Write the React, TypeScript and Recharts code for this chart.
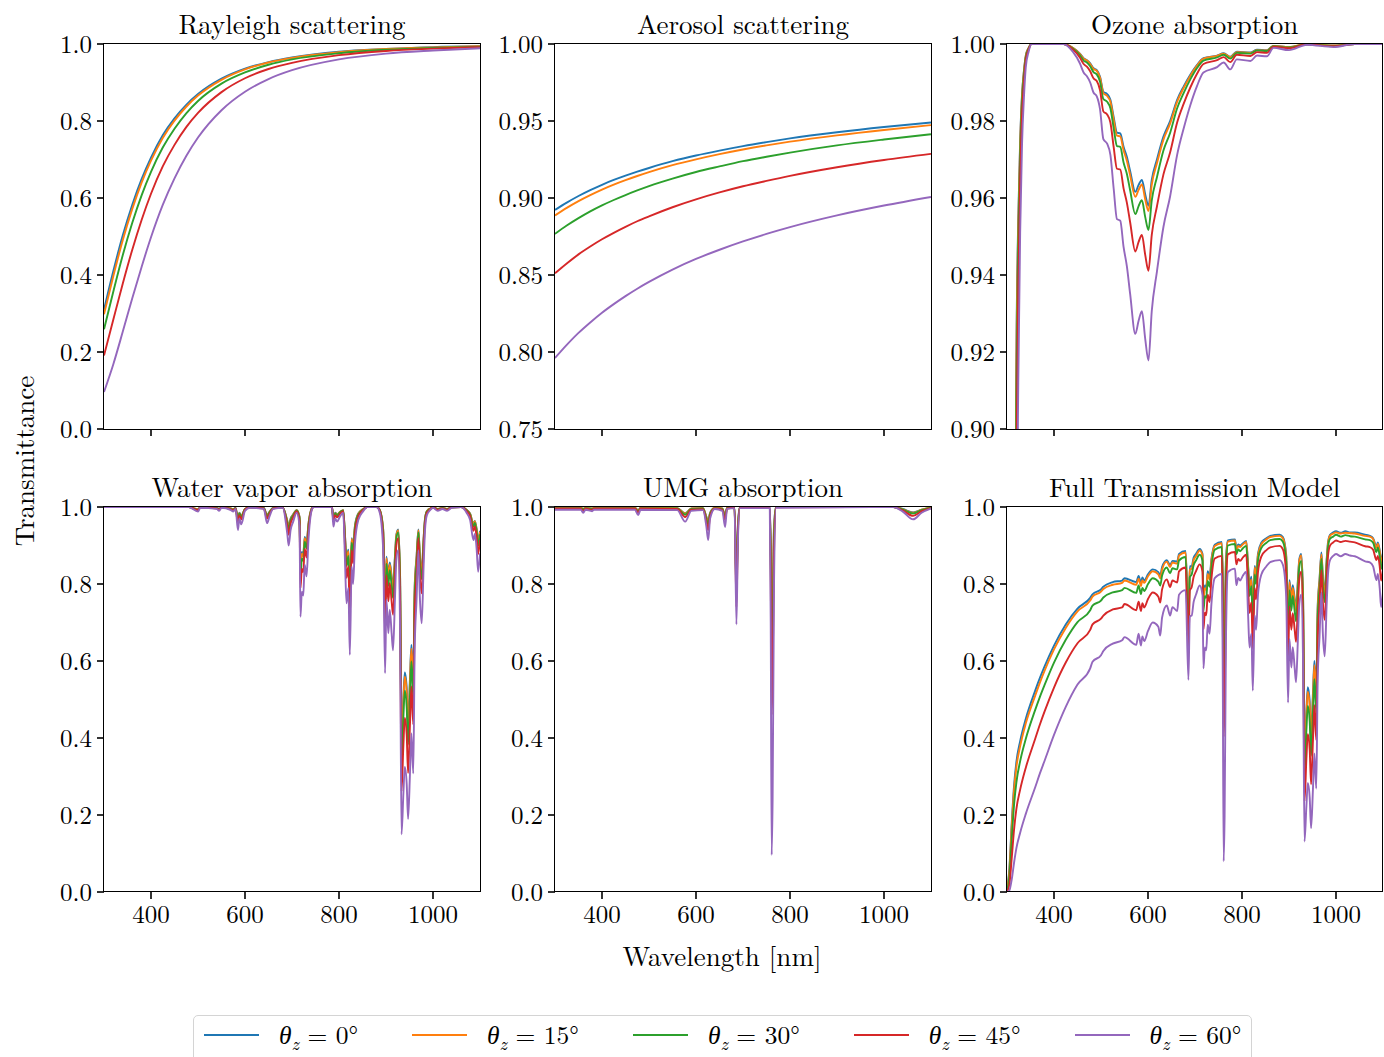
import { LineChart, Line, XAxis, YAxis } from 'recharts';

const COLORS = ['#1f77b4', '#ff7f0e', '#2ca02c', '#d62728', '#9467bd'];
const ANGLES = [0, 15, 30, 45, 60];
const X_TICKS = [400, 600, 800, 1000];
const Y_TICKS_UNIT = [0, 0.2, 0.4, 0.6, 0.8, 1.0];
const Y_TICKS_AEROSOL = [0.75, 0.8, 0.85, 0.9, 0.95, 1.0];
const Y_TICKS_OZONE = [0.9, 0.92, 0.94, 0.96, 0.98, 1.0];
const FONT = '"Latin Modern Roman", "CMU Serif", "Liberation Serif", serif';

// rows are theta_z = 0, 15, 30, 45, 60 deg
const rayleighWl = [300, 320, 340, 360, 380, 400, 425, 450, 475, 500, 550, 600, 650, 700, 800, 900, 1000, 1100];
const rayleighT = [
  [.310, .411, .503, .582, .649, .705, .763, .807, .842, .870, .910, .936, .953, .965, .980, .987, .992, .994],
  [.298, .398, .491, .571, .640, .697, .756, .801, .837, .866, .907, .934, .952, .964, .979, .987, .991, .994],
  [.259, .358, .452, .535, .607, .668, .731, .780, .820, .852, .897, .926, .946, .960, .976, .985, .990, .993],
  [.191, .285, .378, .465, .543, .611, .682, .738, .784, .821, .875, .911, .935, .951, .971, .982, .988, .992],
  [.096, .169, .253, .339, .421, .498, .582, .651, .709, .757, .828, .876, .909, .932, .960, .975, .983, .989],
];

const aerosolWl = [300, 325, 350, 375, 400, 425, 450, 475, 500, 550, 600, 650, 700, 750, 800, 900, 1000, 1100];
const aerosolT = [
  [.8923, .8970, .9013, .9051, .9086, .9117, .9145, .9171, .9195, .9239, .9276, .9308, .9337, .9363, .9387, .9427, .9461, .9490],
  [.8887, .8936, .8980, .9019, .9055, .9087, .9116, .9143, .9168, .9213, .9251, .9285, .9315, .9342, .9366, .9407, .9442, .9473],
  [.8767, .8821, .8869, .8913, .8952, .8987, .9019, .9049, .9077, .9126, .9169, .9205, .9239, .9268, .9295, .9342, .9380, .9414],
  [.8511, .8575, .8634, .8685, .8732, .8774, .8813, .8849, .8881, .8940, .8991, .9036, .9076, .9111, .9144, .9200, .9247, .9287],
  [.7961, .8046, .8124, .8192, .8255, .8311, .8363, .8411, .8455, .8535, .8604, .8664, .8718, .8767, .8811, .8887, .8951, .9007],
];

const ozoneWl = [300, 305, 310, 315, 320, 324, 328, 332, 336, 340, 346, 352, 420, 440, 455, 463, 470, 477, 484, 491,
  498, 505, 513, 520, 527, 534, 541, 548, 555, 562, 573, 580, 587, 594, 601, 608, 619, 633, 647, 662,
  676, 690, 704, 718, 747, 761, 775, 789, 818, 832, 853, 867, 900, 938, 995, 1040, 1100];
const ozoneT = [
  [.03, .20, .55, .80, .92, .955, .975, .987, .993, .997, .999, 1, 1, .999, .9975, .9963, .9958, .995, .9937, .9932,
    .9915, .9876, .987, .9855, .981, .977, .9768, .9733, .9707, .967, .9616, .9634, .9647, .961, .958, .9647, .970, .976, .980, .9855,
    .989, .992, .9945, .9963, .997, .9976, .9967, .998, .9978, .9985, .9984, .9995, .9992, .9999, .9996, 1, 1],
  [.027, .189, .539, .794, .917, .953, .974, .9865, .9928, .9969, .999, 1, 1, .999, .9974, .9962, .9957, .9948, .9935, .993,
    .9912, .9872, .9865, .985, .9803, .9762, .976, .9724, .9697, .9659, .9603, .9621, .9635, .9597, .9566, .9635, .969, .9752, .9793, .985,
    .9886, .9917, .9943, .9962, .9969, .9975, .9966, .9979, .9977, .9984, .9983, .9995, .9992, 1, .9996, 1, 1],
  [.017, .156, .501, .773, .908, .948, .971, .985, .9919, .9965, .9988, 1, 1, .9988, .9971, .9957, .9952, .9942, .9927, .9921,
    .9902, .9857, .985, .9833, .9781, .9735, .9733, .9692, .9663, .962, .9558, .9579, .9594, .9551, .9517, .9594, .9654, .9724, .9769, .9833,
    .9873, .9908, .9937, .9957, .9965, .9972, .9962, .9977, .9975, .9983, .9982, .9994, .9991, .9999, .9995, 1, 1],
  [.007, .103, .429, .729, .889, .937, .965, .9817, .9901, .9958, .9986, 1, 1, .9986, .9965, .9948, .9941, .9929, .9911, .9904,
    .988, .9825, .9817, .9796, .9732, .9676, .9674, .9625, .9588, .9537, .9461, .9486, .9504, .9453, .9411, .9504, .9578, .9662, .9718, .9796,
    .9845, .9887, .9922, .9948, .9958, .9966, .9953, .9972, .9969, .9979, .9977, .9993, .9989, .9999, .9994, 1, 1],
  [.001, .040, .303, .640, .846, .912, .951, .974, .986, .994, .998, 1, 1, .998, .995, .9926, .9916, .990, .9874, .9864,
    .983, .9753, .9741, .9712, .9624, .9545, .9541, .9473, .9423, .9351, .9247, .9281, .9306, .9235, .9178, .9306, .9409, .9526, .9604, .9712,
    .9781, .9841, .989, .9926, .994, .9952, .9934, .996, .9956, .997, .9968, .999, .9984, .9998, .9992, 1, 1],
];

const waterWl = [300, 480, 500, 505, 540, 545, 550, 570, 575, 580, 585, 588, 592, 600, 610, 640, 647, 652, 660, 680,
  690, 693, 697, 702, 710, 716, 718, 721, 724, 727, 731, 735, 742, 746, 785, 788, 792, 796, 802, 809,
  813, 816, 820, 823, 827, 830, 834, 841, 852, 860, 880, 887, 894, 898, 901, 905, 908, 912, 915, 919,
  922, 926, 930, 933, 937, 940, 944, 947, 951, 954, 958, 961, 965, 969, 972, 976, 980, 983, 987, 994,
  1000, 1010, 1020, 1030, 1040, 1060, 1072, 1079, 1086, 1089, 1093, 1096, 1100];
const waterT = [
  [1, 1, .994, .999, .998, .995, .999, .996, .994, .998, .970, .985, .977, .995, .999, .998, .979, .987, .998, .999,
    .964, .949, .970, .980, .992, .975, .846, .883, .877, .922, .906, .956, .996, 1, 1, .974, .985, .981, .987, .992,
    .922, .866, .889, .785, .919, .894, .952, .983, .995, 1, 1, .992, .942, .754, .871, .820, .856, .820, .792, .871,
    .928, .942, .820, .387, .506, .570, .531, .436, .555, .642, .555, .792, .871, .942, .876, .835, .919, .970, .989, .996,
    .999, .995, .998, .995, .999, 1, .992, .983, .956, .964, .942, .912, .938],
  [1, 1, .994, .999, .997, .995, .999, .996, .994, .997, .968, .984, .976, .995, .999, .997, .978, .987, .997, .999,
    .963, .947, .968, .979, .992, .974, .841, .879, .873, .919, .902, .955, .996, 1, 1, .973, .984, .980, .987, .992,
    .919, .862, .885, .778, .917, .891, .950, .982, .995, 1, 1, .992, .940, .746, .867, .814, .851, .814, .786, .867,
    .926, .940, .814, .375, .494, .559, .519, .423, .544, .632, .544, .786, .867, .940, .872, .830, .917, .968, .989, .996,
    .999, .995, .997, .995, .999, 1, .992, .982, .955, .963, .940, .909, .936],
  [1, 1, .993, .999, .997, .994, .999, .995, .993, .997, .965, .983, .974, .994, .999, .997, .976, .986, .997, .999,
    .959, .941, .965, .977, .991, .971, .824, .866, .860, .910, .892, .949, .995, 1, 1, .970, .983, .978, .986, .991,
    .910, .847, .873, .756, .907, .879, .945, .980, .994, 1, 1, .991, .934, .721, .853, .795, .836, .795, .764, .853,
    .918, .934, .795, .334, .455, .523, .481, .383, .507, .599, .507, .764, .853, .934, .858, .813, .907, .965, .988, .995,
    .999, .994, .997, .994, .999, 1, .991, .980, .949, .959, .934, .899, .929],
  [1, 1, .992, .999, .996, .993, .999, .994, .992, .996, .957, .979, .968, .993, .999, .996, .970, .982, .996, .999,
    .950, .928, .957, .972, .989, .964, .789, .839, .831, .891, .869, .938, .994, 1, 1, .964, .979, .973, .982, .989,
    .891, .816, .846, .710, .888, .854, .933, .976, .993, 1, 1, .989, .919, .670, .823, .755, .803, .755, .720, .823,
    .900, .919, .755, .261, .382, .452, .409, .309, .435, .534, .435, .720, .823, .919, .829, .776, .888, .957, .985, .994,
    .999, .993, .996, .993, .999, 1, .989, .976, .938, .950, .919, .878, .914],
  [1, 1, .988, .998, .995, .99, .998, .992, .988, .995, .94, .97, .955, .99, .998, .995, .958, .975, .995, .998,
    .93, .9, .94, .96, .985, .95, .715, .78, .77, .85, .82, .914, .992, 1, 1, .949, .97, .962, .975, .985,
    .85, .75, .79, .616, .845, .80, .906, .966, .99, 1, 1, .984, .888, .568, .759, .672, .733, .672, .628, .759,
    .862, .888, .672, .15, .256, .325, .282, .19, .308, .412, .308, .628, .759, .888, .767, .698, .845, .94, .979, .992,
    .998, .99, .995, .99, .998, 1, .984, .966, .914, .93, .888, .832, .88],
];

const umgWl = [300, 355, 360, 365, 379, 383, 470, 477, 482, 560, 577, 590, 615, 622, 626, 630, 640, 656, 662, 666,
  682, 686, 689, 693, 757, 759, 761, 763, 766, 770, 1020, 1040, 1062, 1080, 1100];
const umgT = [
  [.998, .998, .995, .998, .996, .998, .998, .992, .998, .997, .984, .996, .997, .975, .962, .985, .998, .996, .978, .998,
    .999, .80, .95, .999, .999, .90, .67, .75, .95, 1, 1, .995, .986, .993, .999],
  [.998, .998, .995, .998, .996, .998, .998, .991, .998, .997, .983, .996, .997, .974, .960, .984, .998, .996, .977, .998,
    .999, .79, .945, .999, .999, .89, .64, .72, .94, 1, 1, .994, .985, .993, .999],
  [.997, .997, .994, .997, .995, .997, .997, .989, .997, .996, .980, .995, .996, .970, .955, .982, .997, .995, .974, .997,
    .999, .77, .935, .999, .999, .87, .57, .66, .92, 1, 1, .993, .983, .992, .998],
  [.996, .996, .990, .996, .993, .996, .996, .985, .996, .995, .974, .993, .994, .962, .940, .977, .996, .993, .966, .996,
    .998, .74, .92, .998, .998, .83, .46, .55, .88, .999, 1, .991, .977, .989, .997],
  [.993, .993, .985, .993, .989, .993, .993, .979, .993, .992, .962, .990, .992, .950, .914, .970, .995, .990, .948, .995,
    .997, .695, .90, .997, .997, .70, .096, .24, .80, .998, 1, .988, .968, .985, .996],
];

const fullWl = [300, 305, 310, 315, 320, 328, 340, 360, 370, 380, 400, 425, 450, 477, 482, 500, 505, 525, 545, 550,
  575, 580, 585, 588, 592, 600, 610, 622, 626, 630, 640, 647, 652, 662, 666, 680, 686, 689, 693, 697,
  702, 710, 716, 718, 721, 724, 727, 731, 735, 742, 757, 759, 761, 763, 766, 770, 785, 788, 792, 796,
  802, 809, 813, 816, 820, 823, 827, 830, 834, 841, 852, 860, 880, 887, 894, 898, 901, 905, 908, 912,
  915, 919, 922, 926, 930, 933, 937, 940, 944, 947, 951, 954, 958, 961, 965, 969, 972, 976, 980, 983,
  987, 994, 1000, 1010, 1020, 1030, 1040, 1062, 1072, 1079, 1086, 1089, 1093, 1096, 1100];
const fullT = [
  [.008, .060, .178, .276, .338, .392, .450, .523, .556, .586, .640, .695, .736, .764, .773, .786, .793, .805, .809, .815,
    .805, .821, .802, .817, .809, .825, .838, .831, .822, .844, .862, .849, .860, .858, .878, .886, .711, .846, .846, .868,
    .878, .891, .878, .762, .796, .791, .833, .819, .865, .902, .909, .820, .610, .684, .867, .913, .916, .892, .903, .900,
    .906, .912, .848, .797, .819, .723, .847, .824, .879, .907, .919, .925, .928, .922, .876, .701, .810, .763, .797, .763,
    .737, .812, .865, .878, .765, .361, .472, .532, .496, .407, .518, .600, .518, .741, .814, .882, .820, .782, .861, .909,
    .927, .934, .937, .933, .937, .934, .934, .928, .925, .919, .897, .908, .887, .859, .884],
  [.007, .054, .168, .265, .325, .379, .438, .510, .544, .575, .630, .686, .729, .757, .767, .780, .787, .798, .803, .809,
    .798, .814, .795, .810, .803, .820, .833, .825, .815, .838, .858, .844, .856, .853, .874, .882, .699, .837, .840, .862,
    .872, .887, .874, .754, .789, .785, .826, .812, .860, .899, .906, .808, .581, .654, .855, .910, .913, .888, .899, .896,
    .903, .909, .843, .790, .812, .714, .843, .819, .874, .903, .916, .922, .925, .919, .871, .692, .805, .755, .790, .756,
    .730, .805, .861, .874, .757, .349, .460, .520, .484, .394, .507, .589, .507, .733, .809, .877, .814, .775, .856, .904,
    .925, .931, .934, .931, .933, .932, .931, .925, .923, .917, .894, .905, .884, .855, .880],
  [.004, .039, .136, .227, .285, .340, .398, .473, .507, .538, .596, .655, .701, .732, .744, .757, .765, .778, .784, .790,
    .777, .796, .774, .790, .782, .800, .815, .806, .796, .822, .843, .828, .841, .838, .861, .870, .673, .818, .825, .849,
    .861, .876, .860, .730, .768, .764, .808, .793, .845, .889, .896, .781, .512, .593, .828, .900, .904, .877, .890, .885,
    .893, .899, .826, .769, .794, .687, .825, .800, .861, .893, .907, .914, .917, .910, .858, .663, .784, .731, .769, .731,
    .703, .786, .845, .860, .733, .308, .420, .483, .444, .354, .468, .553, .468, .707, .789, .865, .794, .753, .841, .895,
    .917, .923, .928, .923, .927, .924, .923, .916, .914, .907, .883, .895, .871, .839, .866],
  [.001, .019, .087, .162, .216, .266, .323, .398, .435, .469, .531, .596, .646, .681, .695, .710, .718, .734, .739, .748,
    .732, .754, .730, .750, .739, .761, .778, .767, .752, .786, .812, .792, .809, .804, .833, .843, .628, .783, .792, .818,
    .833, .851, .832, .682, .726, .719, .772, .753, .814, .866, .873, .727, .403, .482, .773, .877, .883, .851, .865, .860,
    .869, .876, .790, .725, .752, .631, .790, .760, .831, .871, .888, .895, .899, .890, .828, .604, .742, .681, .724, .682,
    .650, .744, .814, .832, .683, .236, .346, .410, .371, .280, .395, .485, .395, .654, .748, .836, .754, .707, .809, .872,
    .899, .908, .913, .909, .912, .910, .908, .898, .896, .889, .862, .873, .846, .809, .840],
  [0, .004, .032, .076, .114, .154, .203, .272, .308, .341, .408, .481, .539, .581, .598, .615, .626, .645, .654, .662,
    .642, .671, .640, .664, .652, .678, .700, .689, .666, .713, .744, .718, .740, .730, .772, .784, .551, .716, .718, .753,
    .772, .796, .771, .581, .635, .628, .694, .671, .749, .815, .826, .580, .080, .199, .666, .831, .840, .797, .816, .809,
    .822, .832, .719, .635, .671, .523, .718, .681, .772, .824, .846, .857, .862, .850, .768, .492, .657, .583, .636, .583,
    .545, .659, .749, .772, .585, .131, .223, .283, .246, .166, .269, .360, .269, .549, .664, .778, .672, .612, .742, .825,
    .861, .873, .878, .872, .878, .874, .872, .859, .856, .846, .810, .826, .789, .740, .781],
];

const PLOT_W = 376;
const PLOT_H = 385;
const ML = 90;
const MT = 22;
const MR = 8;
const XH = 45;

function toRows(wl: number[], series: number[][]) {
  return wl.map((w, i) => {
    const row: Record<string, number> = { w };
    series.forEach((s, k) => { row['s' + k] = s[i]; });
    return row;
  });
}

interface PanelProps {
  left: number;
  top: number;
  title: string;
  wl: number[];
  series: number[][];
  yDomain: [number, number];
  yTicks: number[];
  digits: number;
  xLabels: boolean;
}

function Panel({ left, top, title, wl, series, yDomain, yTicks, digits, xLabels }: PanelProps) {
  const data = toRows(wl, series);
  const tickStyle = { fill: '#000', fontSize: 25, fontFamily: FONT };
  return (
    <div style={{ position: 'absolute', left: left - ML, top: top - MT }}>
      <div style={{
        position: 'absolute', left: ML, top: MT - 34, width: PLOT_W, textAlign: 'center',
        fontSize: 27, lineHeight: '27px', fontFamily: FONT, whiteSpace: 'nowrap',
      }}>{title}</div>
      <LineChart width={PLOT_W + ML + MR} height={PLOT_H + MT + XH} data={data}
        margin={{ top: MT, right: MR, left: 0, bottom: 0 }}>
        <XAxis type="number" dataKey="w" domain={[300, 1100]} ticks={X_TICKS} allowDataOverflow
          height={XH} tickSize={7} tickMargin={6} axisLine={false} stroke="#000"
          tickLine={{ stroke: '#000', strokeWidth: 1.6 }} tick={tickStyle}
          tickFormatter={(v: number) => (xLabels ? String(v) : '')} />
        <YAxis type="number" domain={yDomain} ticks={yTicks} allowDataOverflow width={ML}
          tickSize={7} tickMargin={5} axisLine={false} stroke="#000"
          tickLine={{ stroke: '#000', strokeWidth: 1.6 }} tick={tickStyle}
          tickFormatter={(v: number) => v.toFixed(digits)} />
        {series.map((_, k) => (
          <Line key={k} type="monotone" dataKey={'s' + k} stroke={COLORS[k]} strokeWidth={1.9}
            dot={false} activeDot={false} isAnimationActive={false} />
        ))}
      </LineChart>
      <div style={{
        position: 'absolute', left: ML - 0.8, top: MT - 0.8, width: PLOT_W + 1.6, height: PLOT_H + 1.6,
        border: '1.6px solid #000', boxSizing: 'border-box', pointerEvents: 'none',
      }} />
    </div>
  );
}

export default function App() {
  const row1 = 44.3;
  const row2 = 506.7;
  const cols = [104, 555, 1006.7];
  return (
    <div style={{
      position: 'absolute', left: 0, top: 0, width: 1384, height: 1057, overflow: 'hidden',
      background: '#fff', fontFamily: FONT, color: '#000',
    }}>
      <Panel left={cols[0]} top={row1} title="Rayleigh scattering" wl={rayleighWl} series={rayleighT}
        yDomain={[0, 1]} yTicks={Y_TICKS_UNIT} digits={1} xLabels={false} />
      <Panel left={cols[1]} top={row1} title="Aerosol scattering" wl={aerosolWl} series={aerosolT}
        yDomain={[0.75, 1]} yTicks={Y_TICKS_AEROSOL} digits={2} xLabels={false} />
      <Panel left={cols[2]} top={row1} title="Ozone absorption" wl={ozoneWl} series={ozoneT}
        yDomain={[0.9, 1]} yTicks={Y_TICKS_OZONE} digits={2} xLabels={false} />
      <Panel left={cols[0]} top={row2} title="Water vapor absorption" wl={waterWl} series={waterT}
        yDomain={[0, 1]} yTicks={Y_TICKS_UNIT} digits={1} xLabels />
      <Panel left={cols[1]} top={row2} title="UMG absorption" wl={umgWl} series={umgT}
        yDomain={[0, 1]} yTicks={Y_TICKS_UNIT} digits={1} xLabels />
      <Panel left={cols[2]} top={row2} title="Full Transmission Model" wl={fullWl} series={fullT}
        yDomain={[0, 1]} yTicks={Y_TICKS_UNIT} digits={1} xLabels />

      <div style={{
        position: 'absolute', left: 23, top: 461, transform: 'translate(-50%, -50%) rotate(-90deg)',
        fontSize: 27, lineHeight: '27px', whiteSpace: 'nowrap',
      }}>Transmittance</div>
      <div style={{
        position: 'absolute', left: 722, top: 942, transform: 'translateX(-50%)',
        fontSize: 27, lineHeight: '27px', whiteSpace: 'nowrap',
      }}>Wavelength [nm]</div>

      <div style={{
        position: 'absolute', left: 193, top: 1015, width: 1059, height: 60, boxSizing: 'border-box',
        border: '1.3px solid #d4d4d4', borderRadius: 5, display: 'flex', alignItems: 'flex-start',
        paddingLeft: 10, paddingTop: 4, gap: 54,
      }}>
        {ANGLES.map((a, k) => (
          <div key={a} style={{ display: 'flex', alignItems: 'center', height: 30 }}>
            <div style={{ width: 55, height: 0, borderTop: `2px solid ${COLORS[k]}`, marginRight: 20 }} />
            <span style={{ fontSize: 25.5, whiteSpace: 'nowrap' }}>
              <i>θ</i><sub style={{ fontSize: 18, fontStyle: 'italic', verticalAlign: '-6px' }}>z</sub> = {a}°
            </span>
          </div>
        ))}
      </div>
    </div>
  );
}
